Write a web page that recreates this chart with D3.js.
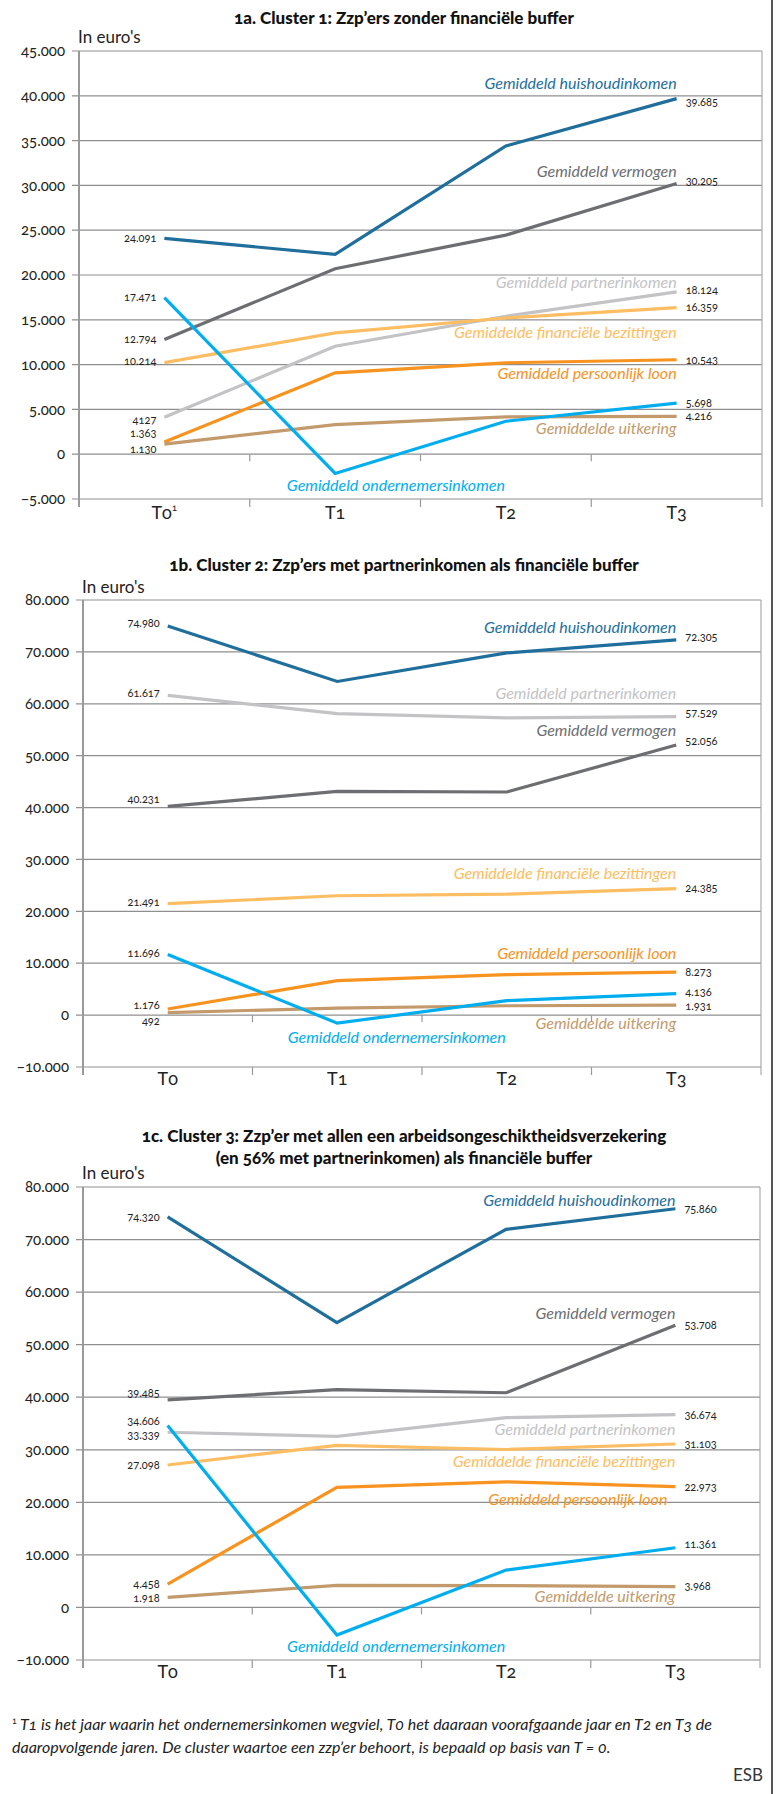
<!DOCTYPE html>
<html>
<head>
<meta charset="utf-8">
<script src="https://cdn.jsdelivr.net/npm/d3@7"></script>
<style>
  body { margin: 0; background: #fff; }
  svg { display: block; font-family: Lato, "Open Sans", sans-serif; font-variant-numeric: oldstyle-nums; }
</style>
</head>
<body>
<div id="chart"></div>
<script>
// categories + series
const categories = ['T0', 'T1', 'T2', 'T3'];
const seriesNames = [
    'Gemiddeld huishoudinkomen',
    'Gemiddeld vermogen',
    'Gemiddeld partnerinkomen',
    'Gemiddelde financiële bezittingen',
    'Gemiddeld persoonlijk loon',
    'Gemiddelde uitkering',
    'Gemiddeld ondernemersinkomen'
];
const seriesColors = ['#1f6e9c', '#6d6e71', '#c3c3c5', '#fdbd62', '#f7931e', '#c39a6b', '#00aeef'];

// values in euro's, rows follow seriesNames
const cluster1Values = [
    [24091, 22300, 34400, 39685],
    [12794, 20700, 24450, 30205],
    [4127, 12050, 15400, 18124],
    [10214, 13540, 15200, 16359],
    [1363, 9080, 10200, 10543],
    [1130, 3300, 4160, 4216],
    [17471, -2150, 3680, 5698]
];
const cluster2Values = [
    [74980, 64300, 69800, 72305],
    [40231, 43100, 43000, 52056],
    [61617, 58100, 57300, 57529],
    [21491, 23000, 23300, 24385],
    [1176, 6650, 7800, 8273],
    [492, 1350, 1800, 1931],
    [11696, -1550, 2800, 4136]
];
const cluster3Values = [
    [74320, 54200, 71950, 75860],
    [39485, 41450, 40850, 53708],
    [33339, 32550, 36100, 36674],
    [27098, 30850, 30050, 31103],
    [4458, 22850, 23900, 22973],
    [1918, 4200, 4150, 3968],
    [34606, -5250, 7100, 11361]
];

const ticks1 = [-5000, 0, 5000, 10000, 15000, 20000, 25000, 30000, 35000, 40000, 45000];
const ticks2 = [-10000, 0, 10000, 20000, 30000, 40000, 50000, 60000, 70000, 80000];
const ticks3 = [-10000, 0, 10000, 20000, 30000, 40000, 50000, 60000, 70000, 80000];

const titles1 = ['1a. Cluster 1: Zzp’ers zonder financiële buffer'];
const titles2 = ['1b. Cluster 2: Zzp’ers met partnerinkomen als financiële buffer'];
const titles3 = ['1c. Cluster 3: Zzp’er met allen een arbeidsongeschiktheidsverzekering',
                 '(en 56% met partnerinkomen) als financiële buffer'];

const footnote = [
    'T1 is het jaar waarin het ondernemersinkomen wegviel, T0 het daaraan voorafgaande jaar en T2 en T3 de',
    'daaropvolgende jaren. De cluster waartoe een zzp’er behoort, is bepaald op basis van T = 0.'
];

(function () {
    const width = 780;
    const height = 1794;

    const nl = d3.formatLocale({ decimal: ',', thousands: '.', grouping: [3], currency: ['€', ''] });
    const fmt = nl.format(',d');

    const svg = d3.select('#chart').append('svg')
        .attr('width', width)
        .attr('height', height)
        .attr('viewBox', `0 0 ${width} ${height}`);

    // page frame on the right
    svg.append('line')
        .attr('x1', 772).attr('x2', 772).attr('y1', 0).attr('y2', height)
        .attr('stroke', '#555').attr('stroke-width', 2);

    // layout per panel (label nudges in px)
    const panels = [
        {
            values: cluster1Values, ticks: ticks1, titles: titles1,
            top: 51, bottom: 499, left: 79, right: 762,
            titleY: [24], unitY: 43, catY: 519, supFirst: true,
            leftDy: [0, 0, 3, -2, -9, 5, -1],
            rightDy: [4, -2, -2, 0, 0, 0, 0],
            nameDy: [-10, -7, -4, 30, 19, 18, 18],
            nameDx: [0, 0, 0, 0, 0, 0, 0],
            leftText: { 2: '4127' }
        },
        {
            values: cluster2Values, ticks: ticks2, titles: titles2,
            top: 600, bottom: 1067, left: 83, right: 761,
            titleY: [571], unitY: 593, catY: 1085, supFirst: false,
            leftDy: [-3, -7, -2, -1, -4, 9, -1],
            rightDy: [-3, -4, -3, 0, 0, 1, -1],
            nameDy: [-7, -9, -18, -10, -13, 24, 20],
            nameDx: [0, 0, 0, 0, 0, 0, 0],
            leftText: {}
        },
        {
            values: cluster3Values, ticks: ticks3, titles: titles3,
            top: 1187, bottom: 1660, left: 83, right: 760,
            titleY: [1142, 1164], unitY: 1179, catY: 1678, supFirst: false,
            leftDy: [0, -7, 3, 0, 0, 1, -4],
            rightDy: [0, 0, 0, 0, 0, 0, -4],
            nameDy: [-3, -6, 20, 23, 18, 15, 17],
            nameDx: [0, 0, 0, 0, -8, 0, 0],
            leftText: {}
        }
    ];

    panels.forEach(drawPanel);

    function drawPanel(p) {
        const g = svg.append('g');

        const x = d3.scaleBand().domain(categories).range([p.left, p.right]);
        const y = d3.scaleLinear()
            .domain([p.ticks[0], p.ticks[p.ticks.length - 1]])
            .range([p.bottom, p.top]);
        const cx = d => x(d) + x.bandwidth() / 2;

        // title
        p.titles.forEach((t, i) => {
            g.append('text')
                .attr('x', 404).attr('y', p.titleY[i])
                .attr('text-anchor', 'middle')
                .attr('font-size', 17).attr('font-weight', 900)
                .attr('fill', '#111')
                .text(t);
        });

        g.append('text')
            .attr('x', p.left - 1).attr('y', p.unitY)
            .attr('font-size', 17).attr('fill', '#222')
            .text('In euro\'s');

        // grid lines
        g.append('g').selectAll('line')
            .data(p.ticks)
            .join('line')
            .attr('x1', p.left - 7).attr('x2', p.right)
            .attr('y1', d => y(d)).attr('y2', d => y(d))
            .attr('stroke', '#8f8f8f').attr('stroke-width', 1.2);

        // tick labels
        g.append('g').selectAll('text')
            .data(p.ticks)
            .join('text')
            .attr('x', p.left - 14).attr('y', d => y(d))
            .attr('dy', '0.35em')
            .attr('text-anchor', 'end')
            .attr('font-size', 15).attr('fill', '#222')
            .text(d => d < 0 ? '−' + fmt(-d) : fmt(d));

        // axis + frame
        g.append('line')
            .attr('x1', p.left).attr('x2', p.left)
            .attr('y1', p.top).attr('y2', p.bottom + 8)
            .attr('stroke', '#999').attr('stroke-width', 2);
        g.append('line')
            .attr('x1', p.right).attr('x2', p.right)
            .attr('y1', p.top).attr('y2', p.bottom + 8)
            .attr('stroke', '#aaa').attr('stroke-width', 1.2);

        const bounds = categories.map(c => x(c)).slice(1);
        g.append('g').selectAll('line')
            .data(bounds)
            .join('line')
            .attr('x1', d => d).attr('x2', d => d)
            .attr('y1', p.bottom).attr('y2', p.bottom + 8)
            .attr('stroke', '#999').attr('stroke-width', 1.2);
        g.append('g').selectAll('line')
            .data(bounds)
            .join('line')
            .attr('x1', d => d).attr('x2', d => d)
            .attr('y1', y(0)).attr('y2', y(0) + 7)
            .attr('stroke', '#999').attr('stroke-width', 1.2);

        // category labels
        const cats = g.append('g').selectAll('text')
            .data(categories)
            .join('text')
            .attr('x', d => cx(d)).attr('y', p.catY)
            .attr('text-anchor', 'middle')
            .attr('font-size', 18).attr('fill', '#222')
            .text(d => d);
        if (p.supFirst) {
            cats.filter((d, i) => i === 0)
                .append('tspan')
                .attr('font-size', 10).attr('dy', -8)
                .text('1');
        }

        // lines
        const line = d3.line()
            .x((d, i) => cx(categories[i]))
            .y(d => y(d));

        g.append('g').selectAll('path')
            .data(p.values)
            .join('path')
            .attr('d', d => line(d))
            .attr('fill', 'none')
            .attr('stroke', (d, i) => seriesColors[i])
            .attr('stroke-width', 3.2)
            .attr('stroke-linejoin', 'miter');

        const first = categories[0];
        const last = categories[categories.length - 1];

        // start values
        g.append('g').selectAll('text')
            .data(p.values)
            .join('text')
            .attr('x', cx(first) - 8)
            .attr('y', (d, i) => y(d[0]) + p.leftDy[i])
            .attr('dy', '0.35em')
            .attr('text-anchor', 'end')
            .attr('font-size', 11).attr('fill', '#222')
            .text((d, i) => p.leftText[i] || fmt(d[0]));

        // end values
        g.append('g').selectAll('text')
            .data(p.values)
            .join('text')
            .attr('x', cx(last) + 9)
            .attr('y', (d, i) => y(d[d.length - 1]) + p.rightDy[i])
            .attr('dy', '0.35em')
            .attr('font-size', 11).attr('fill', '#222')
            .text(d => fmt(d[d.length - 1]));

        // series names; the last one sits under the T1 dip
        g.append('g').selectAll('text')
            .data(p.values)
            .join('text')
            .attr('x', (d, i) => i === 6 ? cx(categories[2]) - 1 : cx(last) + p.nameDx[i])
            .attr('y', (d, i) => (i === 6 ? y(d[1]) : y(d[d.length - 1])) + p.nameDy[i])
            .attr('text-anchor', 'end')
            .attr('font-size', 16).attr('font-style', 'italic')
            .attr('fill', (d, i) => seriesColors[i])
            .text((d, i) => seriesNames[i]);
    }

    // footnote
    const fn = svg.append('g')
        .attr('font-size', 16).attr('font-style', 'italic').attr('fill', '#222');
    const l1 = fn.append('text').attr('x', 12).attr('y', 1730);
    l1.append('tspan').attr('font-style', 'normal').attr('font-size', 9).attr('dy', -6).text('1');
    l1.append('tspan').attr('dy', 6).attr('dx', 3).text(footnote[0]);
    fn.append('text').attr('x', 12).attr('y', 1753).text(footnote[1]);

    svg.append('text')
        .attr('x', 763).attr('y', 1781)
        .attr('text-anchor', 'end')
        .attr('font-size', 17).attr('fill', '#333')
        .text('ESB');
})();
</script>
</body>
</html>
